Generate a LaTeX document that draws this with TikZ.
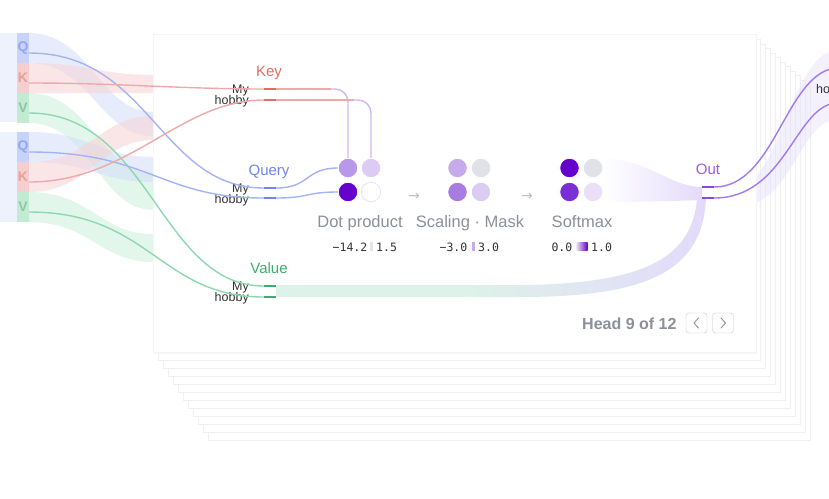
\documentclass[tikz,border=0pt]{standalone}
\usepackage{fontspec}
\setmainfont{Liberation Sans}
\setmonofont{DejaVu Sans Mono}
\newfontfamily\symfont{DejaVu Sans}
\usetikzlibrary{positioning}

\definecolor{panel}{HTML}{EEF2FD}
\definecolor{qbar}{HTML}{C7D3FA}
\definecolor{kbar}{HTML}{F5CFCF}
\definecolor{vbar}{HTML}{C3EBD4}
\definecolor{qletter}{HTML}{8C9EF2}
\definecolor{kletter}{HTML}{E8968F}
\definecolor{vletter}{HTML}{86BFA0}
\definecolor{qrib}{HTML}{D3DDFB}
\definecolor{krib}{HTML}{F6D2D2}
\definecolor{vrib}{HTML}{CBEEDB}
\definecolor{vband}{HTML}{DDF2E8}
\definecolor{qwirec}{HTML}{A4B3F6}
\definecolor{kwirec}{HTML}{F0A9A8}
\definecolor{vwirec}{HTML}{8ED8B0}
\definecolor{pwirec}{HTML}{CDB9F2}
\definecolor{klabel}{HTML}{E46B62}
\definecolor{qlabel}{HTML}{6F86EE}
\definecolor{vlabel}{HTML}{3BAF6E}
\definecolor{olabel}{HTML}{9B5BEA}
\definecolor{otick}{HTML}{8E45E6}
\definecolor{owirec}{HTML}{A07AF0}
\definecolor{stepgray}{HTML}{8C909C}
\definecolor{cardline}{HTML}{F0F0F3}
\definecolor{fanpurple}{HTML}{E3DAFB}
%% cell shades
\definecolor{cdeep}{HTML}{6600CC}
\definecolor{cdark}{HTML}{7A2FD6}
\definecolor{cmid}{HTML}{A77BE0}
\definecolor{cmidlight}{HTML}{B898E8}
\definecolor{clight}{HTML}{C5AAEC}
\definecolor{cpale}{HTML}{DCCBF2}
\definecolor{cfaint}{HTML}{EADFF7}
\definecolor{cgray}{HTML}{E1E2E7}

\tikzset{
  card/.style={fill=white, draw=cardline, line width=0.8pt},
  ribbon/.style={fill opacity=0.55},
  qkvbar/.style={minimum width=12pt, minimum height=30pt, inner sep=0pt, text opacity=0.85,
    font=\bfseries\fontsize{14}{14}\selectfont},
  wire/.style={line width=1.4pt},
  tickmark/.style={minimum width=12pt, minimum height=2.8pt, inner sep=0pt},
  cell/.style={circle, minimum size=19.5pt, inner sep=0pt, draw=white, line width=0.8pt},
  steplabel/.style={text=stepgray, anchor=base, font=\fontsize{16.5}{16}\selectfont},
  headlabel/.style={anchor=base, font=\fontsize{15}{15}\selectfont},
  tokenlabel/.style={text=black!80, anchor=base east, inner sep=0pt, font=\fontsize{12.5}{12}\selectfont},
  numlabel/.style={text=black!80, inner sep=0pt, font=\ttfamily\fontsize{11.5}{11}\selectfont},
  scalebar/.style={minimum width=3pt, minimum height=9pt, inner sep=0pt},
  steparrow/.style={text=black!25, font=\symfont\fontsize{14}{14}\selectfont},
  navbtn/.style={draw=black!22, rounded corners=3pt, minimum width=21pt, minimum height=20pt, inner sep=0pt},
  chevron/.style={draw=stepgray, line width=0.9pt, line cap=round, line join=round},
}

\begin{document}
\begin{tikzpicture}[x=1pt,y=-1pt]
\useasboundingbox (0,0) rectangle (829,498);

%% stacked heads, back to front
\draw[card] (208,84.5) rectangle (810,440);   %% back 11
\draw[card] (203,80) rectangle (805,432);     %% back 10
\draw[card] (198,75.5) rectangle (800,424);   %% back 9
\draw[card] (193,71) rectangle (795,416);     %% back 8
\draw[card] (188,66.5) rectangle (790,408);   %% back 7
\draw[card] (183,62) rectangle (785,400);     %% back 6
\draw[card] (178,57.5) rectangle (780,392);   %% back 5
\draw[card] (173,53) rectangle (775,384);     %% back 4
\draw[card] (168,48.5) rectangle (770,376);   %% back 3
\draw[card] (163,44) rectangle (765,368);     %% back 2
\draw[card] (158,39.5) rectangle (760,360);   %% back 1

%% band leaving the head on the right
\fill[fanpurple, fill opacity=0.4] (740,184) .. controls (780,182) and (790,58) .. (835,50)
  -- (835,120) .. controls (800,122) and (790,206) .. (740,206) -- cycle;

%% input panels
\fill[panel] (0,33) rectangle (29,122);
\fill[panel] (0,132) rectangle (29,222);

%% ribbons (cut at the head)
\fill[qrib, ribbon] (29,33) .. controls (90,33) and (100,112) .. (153,112)
  -- (153,136) .. controls (100,136) and (90,63) .. (29,63) -- cycle;      %% q1
\fill[krib, ribbon] (29,63) .. controls (90,63) and (100,75) .. (153,75)
  -- (153,93) .. controls (100,93) and (90,93) .. (29,93) -- cycle;        %% k1
\fill[vrib, ribbon] (29,93) .. controls (90,93) and (100,173) .. (153,173)
  -- (153,210) .. controls (100,210) and (90,123) .. (29,123) -- cycle;    %% v1
\fill[qrib, ribbon] (29,132) .. controls (90,132) and (100,157) .. (153,157)
  -- (153,182) .. controls (100,182) and (90,162) .. (29,162) -- cycle;    %% q2
\fill[krib, ribbon] (29,162) .. controls (90,162) and (100,116) .. (153,116)
  -- (153,140) .. controls (100,140) and (90,192) .. (29,192) -- cycle;    %% k2
\fill[vrib, ribbon] (29,192) .. controls (90,192) and (100,234) .. (153,234)
  -- (153,262) .. controls (100,262) and (90,222) .. (29,222) -- cycle;    %% v2

%% q k v bars
\node[qkvbar, fill=qbar, text=qletter] (q1) at (23,48) {Q};
\node[qkvbar, fill=kbar, text=kletter] (k1) at (23,78) {K};
\node[qkvbar, fill=vbar, text=vletter] (v1) at (23,108) {V};
\node[qkvbar, fill=qbar, text=qletter] (q2) at (23,147) {Q};
\node[qkvbar, fill=kbar, text=kletter] (k2) at (23,177) {K};
\node[qkvbar, fill=vbar, text=vletter] (v2) at (23,207) {V};

%% front head
\fill[black!4] (154,36) rectangle (757,354);
\draw[card, draw=black!4] (153,34) rectangle (756,352);

%% value band into out
\fill[vband] (276,285) rectangle (470,297);
\shade[left color=vband, right color=fanpurple]
  (469,285) -- (520,285) .. controls (650,284) and (692,255) .. (697,199)
  -- (706,199) .. controls (702,270) and (650,297) .. (520,297) -- (469,297) -- cycle;

%% softmax fan into out
\shade[left color=white, right color=fanpurple]
  (603,158) .. controls (650,160) and (670,187) .. (702,187)
  -- (702,200) .. controls (670,201) and (640,202) .. (603,202) -- cycle;

%% group labels
\node[headlabel, text=klabel] (keylabel) at (269,76) {Key};
\node[headlabel, text=qlabel] (querylabel) at (269,175) {Query};
\node[headlabel, text=vlabel] (valuelabel) at (269,273) {Value};
\node[headlabel, text=olabel] (outlabel) at (708,174) {Out};

%% token labels
\node[tokenlabel] (kmytok) at (249,93) {My};
\node[tokenlabel] (khobtok) at (249,104) {hobby};
\node[tokenlabel] (qmytok) at (249,192) {My};
\node[tokenlabel] (qhobtok) at (249,203) {hobby};
\node[tokenlabel] (vmytok) at (249,290) {My};
\node[tokenlabel] (vhobtok) at (249,301) {hobby};
\node[tokenlabel, anchor=base west] (outtok) at (816,93) {ho};

%% ticks
\node[tickmark, fill=klabel] (kmy) at (270,89) {};
\node[tickmark, fill=klabel] (khob) at (270,100) {};
\node[tickmark, fill=qlabel] (qmy) at (270,188) {};
\node[tickmark, fill=qlabel] (qhob) at (270,198) {};
\node[tickmark, fill=vlabel] (vmy) at (270,286) {};
\node[tickmark, fill=vlabel] (vhob) at (270,297) {};
\node[tickmark, fill=otick] (omy) at (708,187) {};
\node[tickmark, fill=otick] (ohob) at (708,198) {};

%% cells
\node[cell, fill=cmidlight] (d11) at (348,168) {};
\node[cell, fill=cpale] (d12) at (371,168) {};
\node[cell, fill=cdeep] (d21) at (348,192) {};
\node[cell, fill=white, draw=black!10] (d22) at (371,192) {};
\node[cell, fill=clight] (s11) at (457.5,168) {};
\node[cell, fill=cgray] (s12) at (481,168) {};
\node[cell, fill=cmid] (s21) at (457.5,192) {};
\node[cell, fill=cpale] (s22) at (481,192) {};
\node[cell, fill=cdeep] (m11) at (569.5,168) {};
\node[cell, fill=cgray] (m12) at (593,168) {};
\node[cell, fill=cdark] (m21) at (569.5,192) {};
\node[cell, fill=cfaint] (m22) at (593,192) {};

%% step arrows
\node[steparrow] (arr1) at (414,197) {→};
\node[steparrow] (arr2) at (527,197) {→};

%% step labels
\node[steplabel] (dplabel) at (360,227) {Dot product};
\node[steplabel] (sclabel) at (470,227) {Scaling · Mask};
\node[steplabel] (smlabel) at (582,227) {Softmax};

%% ranges
\node[numlabel, anchor=base east] (dpmin) at (367.5,251) {−14.2};
\node[scalebar, fill=black!10] (dpbar) at (371.5,246.5) {};
\node[numlabel, anchor=base west] (dpmax) at (376,251) {1.5};
\node[numlabel, anchor=base east] (scmin) at (467.5,251) {−3.0};
\node[scalebar, fill=clight] (scbar) at (473,246.5) {};
\node[numlabel, anchor=base west] (scmax) at (478,251) {3.0};
\node[numlabel, anchor=base east] (smmin) at (572.5,251) {0.0};
\node[scalebar, minimum width=11pt, minimum height=8pt, left color=cfaint, right color=cdeep] (smbar) at (582,246.5) {};
\node[numlabel, anchor=base west] (smmax) at (591,251) {1.0};

%% input wires
\draw[wire, qwirec] ([yshift=-5pt]q1.east) .. controls (150,53) and (160,188) .. (qmy.west);
\draw[wire, kwirec] ([yshift=-5pt]k1.east) .. controls (120,83) and (180,89) .. (kmy.west);
\draw[wire, vwirec] ([yshift=-5pt]v1.east) .. controls (150,113) and (160,286) .. (vmy.west);
\draw[wire, qwirec] ([yshift=-5pt]q2.east) .. controls (150,152) and (160,198) .. (qhob.west);
\draw[wire, kwirec] ([yshift=-5pt]k2.east) .. controls (130,182) and (180,100) .. (khob.west);
\draw[wire, vwirec] ([yshift=-5pt]v2.east) .. controls (150,212) and (160,297) .. (vhob.west);

%% key wires down to dot product
\draw[wire, pwirec, rounded corners=13pt] (kmy.east) -| (d11.north);
\draw[wire, kwirec] (kmy.east) -- ++(55,0);
\draw[wire, pwirec, rounded corners=13pt] (khob.east) -| (d12.north);
\draw[wire, kwirec] (khob.east) -- ++(78,0);

%% query wires into dot product
\draw[wire, qwirec] (qmy.east) .. controls (310,188) and (305,168) .. (d11.west);
\draw[wire, qwirec] (qhob.east) .. controls (310,198) and (305,192) .. (d21.west);

%% out wires
\coordinate (exitmy) at (835,68);
\coordinate (exithob) at (835,103);
\draw[wire, owirec] (omy.east) .. controls (775,187) and (785,75) .. (exitmy);
\draw[wire, owirec] (ohob.east) .. controls (785,198) and (795,108) .. (exithob);

%% head switcher
\node[anchor=base east, text=stepgray, font=\bfseries\fontsize{16}{16}\selectfont] (headinfo) at (680,329) {Head 9 of 12};
\node[navbtn] (prevbtn) at (696.5,323) {};
\node[navbtn] (nextbtn) at (723,323) {};
\draw[chevron] ([xshift=2pt,yshift=5pt]prevbtn.center) -- ([xshift=-2.5pt]prevbtn.center) -- ([xshift=2pt,yshift=-5pt]prevbtn.center);
\draw[chevron] ([xshift=-2pt,yshift=5pt]nextbtn.center) -- ([xshift=2.5pt]nextbtn.center) -- ([xshift=-2pt,yshift=-5pt]nextbtn.center);

\end{tikzpicture}
\end{document}
